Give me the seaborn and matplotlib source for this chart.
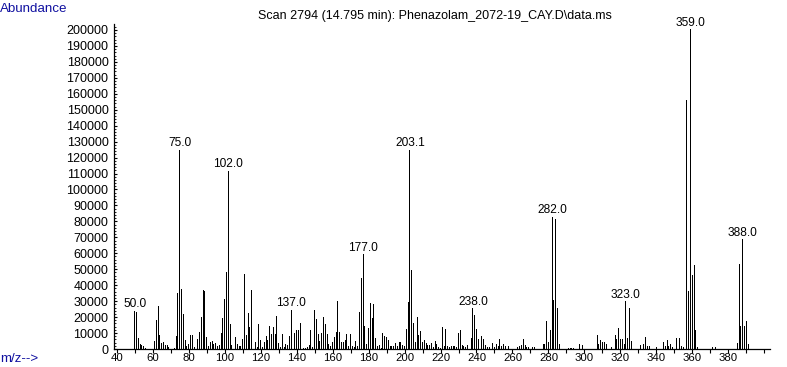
import numpy as np
import pandas as pd
import matplotlib
matplotlib.use("Agg")
import matplotlib.pyplot as plt
import seaborn as sns
from matplotlib.ticker import MultipleLocator

# ---- data (m/z, abundance in thousands) ----
mz = [50, 51, 52, 53, 54, 55, 56, 61, 62, 63, 64, 65, 66, 67, 68, 69, 72, 73, 74, 75,
      76, 77, 78, 79, 80, 81, 82, 83, 85, 86, 87, 88, 89, 90, 91, 92, 93, 94, 95, 96,
      97, 98, 99, 100, 101, 102, 103, 104, 106, 107, 108, 109, 110, 111, 112, 113, 114, 115, 117, 118,
      119, 120, 121, 122, 123, 124, 125, 126, 127, 128, 129, 130, 131, 132, 133, 134, 135, 136, 137, 138,
      139, 140, 141, 142, 143, 144, 145, 146, 147, 148, 149, 150, 151, 152, 153, 154, 155, 156, 157, 158,
      159, 160, 161, 162, 163, 164, 165, 166, 167, 168, 169, 170, 171, 172, 173, 174, 175, 176, 177, 178,
      179, 180, 181, 182, 183, 184, 185, 186, 187, 188, 189, 190, 191, 192, 193, 194, 195, 196, 197, 198,
      199, 200, 201, 202, 203, 204, 205, 206, 207, 208, 209, 210, 211, 212, 213, 214, 215, 216, 217, 218,
      219, 220, 221, 222, 223, 224, 225, 226, 227, 228, 229, 230, 231, 232, 233, 234, 235, 237, 238, 239,
      240, 241, 243, 244, 245, 246, 247, 249, 250, 251, 252, 253, 254, 255, 256, 258, 263, 264, 265, 266,
      267, 268, 269, 271, 272, 277, 278, 279, 280, 281, 282, 283, 284, 285, 286, 291, 292, 293, 294, 297,
      299, 307, 308, 309, 310, 311, 312, 315, 317, 318, 319, 320, 321, 322, 323, 324, 325, 326, 331, 332,
      333, 334, 335, 336, 340, 344, 345, 346, 347, 348, 349, 351, 353, 354, 355, 357, 358, 359, 360, 361,
      362, 363, 371, 373, 385, 386, 387, 388, 389, 390, 391]
abundance_k = [24, 23.5, 6.9, 3.1, 2.3, 1.7, 0.6, 5, 18, 27, 9, 4, 4.6, 2.5, 2.5, 1, 0.8, 8, 35, 125,
               37.5, 22, 5.8, 2, 3.3, 8.5, 8.5, 1.5, 6, 10.4, 20, 36.9, 36.3, 7.3, 2.1, 4.2, 5, 3.1, 3.5, 2,
               2.7, 9.8, 19.4, 31.3, 48.3, 111.7, 15.8, 2.5, 7.5, 3, 2, 2, 6.2, 47, 8.5, 22.3, 14, 36.7, 4.1, 1.5,
               15.5, 5.8, 1.5, 4.6, 8.1, 5.5, 14.5, 9.5, 13.8, 9.4, 20.8, 3.6, 1, 9.4, 1.5, 2.9, 2.3, 8, 24.5, 19.9,
               10.2, 12, 12, 16, 0.6, 0.6, 0.6, 1, 2.7, 12.1, 1.5, 24.4, 18.8, 9.4, 5.2, 10, 19.8, 15.6, 9.4, 3.1,
               2, 4.2, 7.7, 10.8, 30.2, 10.4, 4.2, 4.2, 5.6, 9.4, 2, 9.4, 2, 1.5, 5.2, 2, 23.3, 44.4, 59.4, 14.6,
               3.1, 13, 28.8, 19.4, 28.1, 6.9, 1.7, 2.5, 0.8, 10, 8, 7.5, 5.8, 1.7, 2, 2, 3.5, 2, 4.6, 4.2,
               2.5, 2, 12.5, 29.6, 125, 49.6, 16, 4.6, 19.8, 8.8, 11.5, 4.2, 5.6, 3.5, 2.7, 2.7, 3.5, 1.5, 5.2, 2.9,
               1, 0.8, 13.8, 2, 12.5, 2, 1, 2, 1.7, 2, 1, 10, 12.1, 2.5, 1.7, 1, 2.5, 6.9, 25.6, 21.3,
               12.5, 6.3, 8.3, 6.3, 2.5, 1, 1, 3.8, 1, 3.1, 2, 6.3, 2, 3.1, 2, 1.7, 1, 2, 2.5, 6.3,
               2.5, 1, 1, 1, 1, 3.1, 3.1, 17.7, 4.4, 11.9, 83, 30.6, 81.3, 25.6, 3.1, 0.5, 0.5, 0.5, 0.8, 3.1,
               2.5, 8.8, 3.1, 5.6, 4.6, 4.2, 3.1, 1.5, 8.8, 6.3, 13.1, 6.3, 6.3, 3.1, 29.8, 6.9, 25.6, 4.8, 2.7, 6.9,
               3.1, 7.5, 2, 2, 1, 4.6, 2, 5.7, 2, 3.1, 1, 6.7, 6.7, 2, 1, 156, 36.5, 200.5, 46.3, 52.5,
               11.9, 1.5, 1, 1, 3.8, 53.1, 14.6, 68.8, 14.6, 17.7, 3.1]

label_mz = [50, 75, 102, 137, 177, 203, 238, 282, 323, 359, 388]
label_text = ["50.0", "75.0", "102.0", "137.0", "177.0", "203.1", "238.0",
              "282.0", "323.0", "359.0", "388.0"]

title_text = "Scan 2794 (14.795 min): Phenazolam_2072-19_CAY.D\\data.ms"
x_tick_values = list(range(40, 401, 10))
x_tick_labels = [str(v) if (v % 20 == 0 and v <= 380) else "" for v in x_tick_values]
y_tick_values = list(range(0, 200001, 10000))
y_tick_labels = [str(v) for v in y_tick_values]

# ---- style ----
sns.set_theme(style="white")
plt.rcParams["font.family"] = ["Liberation Sans", "DejaVu Sans"]

W, H = 787, 367
AX_BOTTOM_PX = 349
AX_TOP_PX = 24
fig = plt.figure(figsize=(W / 100, H / 100), dpi=100)
fig.patch.set_facecolor("white")
ax = fig.add_axes([113.5 / W, (H - AX_BOTTOM_PX) / H, (770 - 113.5) / W,
                   (AX_BOTTOM_PX - AX_TOP_PX) / H])
ax.set_facecolor("white")

df = pd.DataFrame({"mz": mz, "abundance": np.array(abundance_k) * 1000.0})
sns.histplot(data=df, x="mz", weights="abundance", discrete=True, shrink=0.55,
             color="black", alpha=1, linewidth=0, ax=ax, legend=False)
for p in ax.patches:
    p.set_antialiased(False)

ax.set_xlim(38.22, 403.15)
ax.set_ylim(0, 203750)
ax.set_xlabel("")
ax.set_ylabel("")

for s in ["top", "right"]:
    ax.spines[s].set_visible(False)
for s in ["left", "bottom"]:
    ax.spines[s].set_color("black")
    ax.spines[s].set_linewidth(0.9)

ax.set_xticks(x_tick_values)
ax.set_xticklabels(x_tick_labels)
ax.set_yticks(y_tick_values)
ax.set_yticklabels(y_tick_labels)
ax.yaxis.set_minor_locator(MultipleLocator(2000))

ax.tick_params(axis="x", which="major", direction="out", length=2.6, width=0.8,
               color="black", pad=0.5, labelsize=8.2, labelcolor="black", bottom=True)
ax.tick_params(axis="y", which="major", direction="in", length=2.5, width=0.8,
               color="black", pad=3.6, labelsize=9, labelcolor="black", left=True)
ax.tick_params(axis="y", which="minor", direction="in", length=1.2, width=0.6,
               color="black", left=True)
ax.grid(False)

ab_lookup = dict(zip(mz, abundance_k))
for m, t in zip(label_mz, label_text):
    ax.annotate(t, xy=(m, ab_lookup[m] * 1000.0), xytext=(0, 2.5),
                textcoords="offset points", ha="center", va="baseline",
                fontsize=8.6, color="black")

blue = "#1010a0"
fig.text(0.0, 1 - 12.5 / H, "Abundance", ha="left", va="baseline",
         fontsize=9.6, color=blue)
fig.text(0.0, 1 - 362 / H, "m/z-->", ha="left", va="baseline",
         fontsize=9.6, color=blue)
fig.text(434.5 / W, 1 - 19 / H, title_text, ha="center", va="baseline",
         fontsize=9, color="black")

fig.savefig("out.png", dpi=100, facecolor="white")
